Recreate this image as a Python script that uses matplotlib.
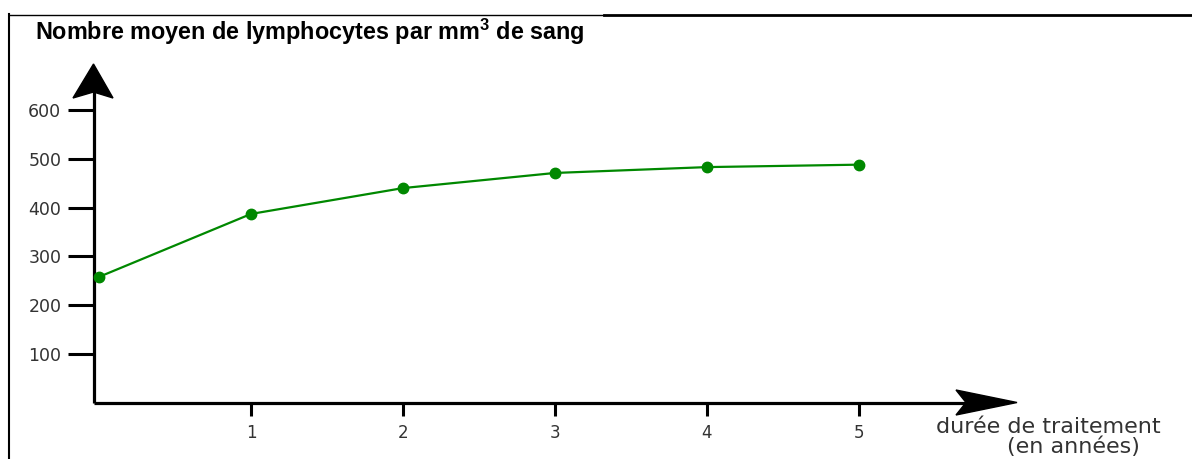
import matplotlib
matplotlib.use("Agg")
import matplotlib.pyplot as plt
from matplotlib.patches import Polygon
from matplotlib.lines import Line2D

# ---- data ----
years = [0, 1, 2, 3, 4, 5]
lymphocytes = [258, 387, 440, 471, 483, 488]
y_ticks = [100, 200, 300, 400, 500, 600]
x_ticks = [1, 2, 3, 4, 5]
title_text = r"Nombre moyen de lymphocytes par mm$^{\mathbf{3}}$ de sang"
xlabel_line1 = "durée de traitement"
xlabel_line2 = "(en années)"

plt.rcParams['font.family'] = ['DejaVu Sans']
plt.rcParams['mathtext.fontset'] = 'custom'
plt.rcParams['mathtext.bf'] = 'Liberation Sans:bold'
plt.rcParams['mathtext.rm'] = 'Liberation Sans:bold'

W, H = 1192, 459
fig = plt.figure(figsize=(W / 100, H / 100), dpi=100)
fig.patch.set_facecolor('white')

def fx(px):
    return px / W

def fy(py):
    return 1 - py / H

ax = fig.add_axes([fx(94), fy(402.8), (1000 - 94) / W, (402.8 - 90) / H])
ax.set_xlim(-0.0329, 5.928)
ax.set_ylim(0, 641)
ax.patch.set_alpha(0)

for s in ['top', 'right']:
    ax.spines[s].set_visible(False)
for s in ['left', 'bottom']:
    ax.spines[s].set_linewidth(2.3)
    ax.spines[s].set_color('black')
    ax.spines[s].set_capstyle('butt')

ax.set_yticks(y_ticks)
ax.set_yticklabels([str(v) for v in y_ticks], fontfamily='DejaVu Sans')
ax.set_xticks(x_ticks)
ax.set_xticklabels([str(v) for v in x_ticks], fontfamily='DejaVu Sans')
ax.tick_params(axis='y', length=18.5, width=2.2, pad=5, labelsize=12.5, labelcolor='#333333')
ax.tick_params(axis='x', length=9, width=2.2, pad=6, labelsize=12, labelcolor='#333333')

ax.plot(years, lymphocytes, color='#008800', linewidth=1.6, marker='o',
        markersize=7.5, clip_on=False, zorder=5)

# arrow heads (stealth style)
yarrow = Polygon([(fx(93.5), fy(64)), (fx(113), fy(98)), (fx(93.5), fy(92)), (fx(73), fy(98))],
                 closed=True, transform=fig.transFigure, color='black', zorder=10)
fig.add_artist(yarrow)
xarrow = Polygon([(fx(1017), fy(402.5)), (fx(956), fy(390)), (fx(966), fy(402.5)), (fx(956), fy(415))],
                 closed=True, transform=fig.transFigure, color='black', zorder=10)
fig.add_artist(xarrow)

# frame lines
fig.add_artist(Line2D([fx(9), fx(9)], [fy(14), fy(459)], transform=fig.transFigure,
                      color='black', linewidth=1.5))
fig.add_artist(Line2D([fx(8.5), fx(604)], [fy(14.5), fy(14.5)], transform=fig.transFigure,
                      color='black', linewidth=1.0))
fig.add_artist(Line2D([fx(604), fx(1192)], [fy(15), fy(15)], transform=fig.transFigure,
                      color='black', linewidth=2.0))

# title
fig.text(fx(35), fy(40), title_text, fontsize=16.8, fontweight='bold',
         family='Liberation Sans', ha='left', va='baseline', color='black')

# x axis label
fig.text(fx(936), fy(427), xlabel_line1, fontsize=16, family='DejaVu Sans',
         ha='left', va='center', color='#333333')
fig.text(fx(1073), fy(447), xlabel_line2, fontsize=16, family='DejaVu Sans',
         ha='center', va='center', color='#333333')

fig.savefig('out.png', dpi=100, facecolor='white')
